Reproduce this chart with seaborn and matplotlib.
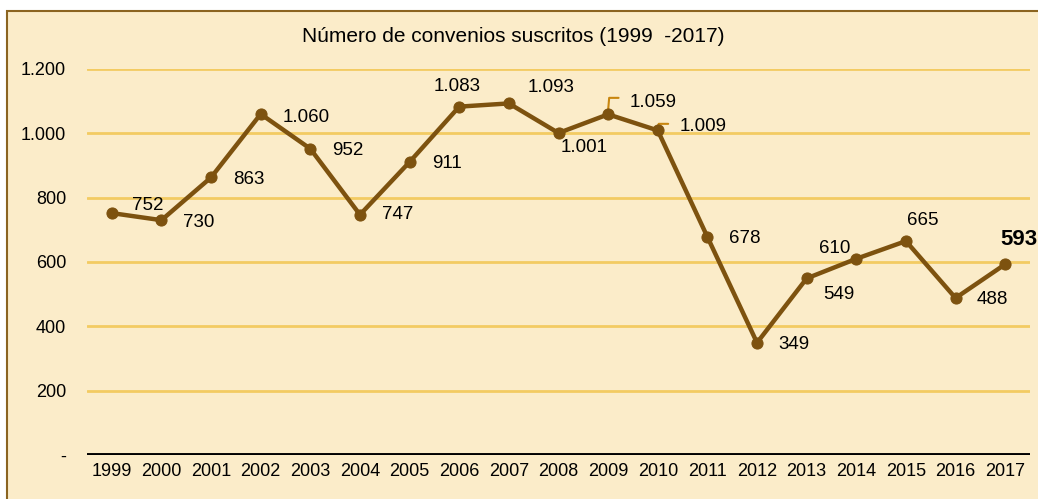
"""Número de convenios suscritos 1999-2017, line chart."""

import matplotlib
matplotlib.use("Agg")
import matplotlib.pyplot as plt
import matplotlib.patches as mpatches
import pandas as pd
import seaborn as sns

YEARS = [1999, 2000, 2001, 2002, 2003, 2004, 2005, 2006, 2007, 2008,
         2009, 2010, 2011, 2012, 2013, 2014, 2015, 2016, 2017]
CONVENIOS = [752, 730, 863, 1060, 952, 747, 911, 1083, 1093, 1001,
             1059, 1009, 678, 349, 549, 610, 665, 488, 593]
Y_TICKS = [0, 200, 400, 600, 800, 1000, 1200]
Y_TICK_LABELS = ["-", "200", "400", "600", "800", "1.000", "1.200"]
TITLE = "Número de convenios suscritos (1999  -2017)"

# label offsets in pixels (dx, dy) from each point
LABEL_OFFSETS = [(36, 8), (37, -2), (38, -2), (45, -3), (37, -2), (38, 0),
                 (37, -2), (-2, 20), (42, 16), (26, -14), (45, 12), (45, 4),
                 (37, -2), (37, -2), (32, -16), (-22, 10), (17, 21), (37, -1),
                 (14, 25)]

BG = "#FBECC9"
GRID = "#F3CB62"
LINE = "#7D520F"
LEADER = "#C8860F"

df = pd.DataFrame({"year": YEARS, "value": CONVENIOS})

sns.set_style("white")
plt.rcParams["font.family"] = ["Liberation Sans", "DejaVu Sans"]
plt.rcParams["text.color"] = "black"
plt.rcParams["xtick.color"] = "black"
plt.rcParams["ytick.color"] = "black"

fig = plt.figure(figsize=(10.38, 4.99), dpi=100)
fig.patch.set_facecolor("white")
# cream chart area with brown border
fig.patches.append(mpatches.Rectangle(
    (7 / 1038, -0.02), 1.05, (499 - 11) / 499 + 0.02,
    transform=fig.transFigure, facecolor=BG, edgecolor="#8B6420",
    linewidth=1.5, zorder=-1))

ax = fig.add_axes([87 / 1038, 1 - 455 / 499, (1030 - 87) / 1038, 386 / 499])
ax.set_facecolor("none")
ax.set_zorder(2)

for t in Y_TICKS[1:]:
    ax.axhline(t, color=GRID, lw=2, zorder=1)
ax.axhline(0, color="black", lw=2.8, zorder=2)

sns.lineplot(data=df, x="year", y="value", ax=ax, color=LINE, lw=3.2,
             marker="o", markersize=8, markeredgecolor=LINE, zorder=3)

for i, (yr, v) in enumerate(zip(YEARS, CONVENIOS)):
    label = f"{v:,}".replace(",", ".")
    dx, dy = LABEL_OFFSETS[i]
    bold = i == len(YEARS) - 1
    ax.annotate(label, (yr, v), xytext=(dx, dy), textcoords="offset pixels",
                ha="center", va="center",
                fontsize=16 if bold else 13.5,
                fontweight="bold" if bold else "normal", color="black",
                zorder=4, annotation_clip=False)

# leader lines for 2009 and 2010
fig.canvas.draw()
for yr, v, h, w in [(2009, 1059, 15, 10), (2010, 1009, 6, 10)]:
    p = ax.transData.transform((yr, v))
    pts = [(p[0], p[1] + 4), (p[0] + 1, p[1] + h), (p[0] + w, p[1] + h)]
    pts = ax.transData.inverted().transform(pts)
    ax.plot(pts[:, 0], pts[:, 1], color=LEADER, lw=1.5, zorder=2)

ax.set_xlim(1998.5, 2017.5)
ax.set_ylim(0, 1200)
ax.set_xticks(YEARS)
ax.set_xticklabels([str(y) for y in YEARS])
ax.set_yticks(Y_TICKS)
ax.set_yticklabels(Y_TICK_LABELS)
ax.tick_params(axis="both", length=0, labelsize=13, labelcolor="black")
ax.tick_params(axis="y", pad=15)
ax.tick_params(axis="x", pad=6)
ax.set_xlabel("")
ax.set_ylabel("")
for s in ax.spines.values():
    s.set_visible(False)

fig.text(513 / 1038, 1 - 37 / 499, TITLE, ha="center", va="center",
         fontsize=15, color="black")

fig.savefig("out.png", dpi=100, facecolor=fig.get_facecolor())
